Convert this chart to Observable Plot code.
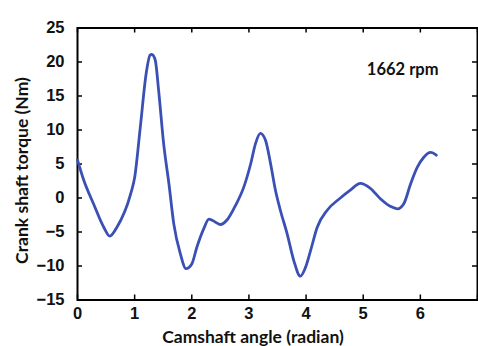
<!DOCTYPE html>
<html>
<head>
<meta charset="utf-8">
<script src="https://cdn.jsdelivr.net/npm/d3@7"></script>
<script src="https://cdn.jsdelivr.net/npm/@observablehq/plot@0.6"></script>
<style>
  html, body { margin: 0; padding: 0; background: #fff; }
  svg { display: block; }
</style>
</head>
<body>
<div id="chart"></div>
<script>
// Crankshaft torque over one camshaft revolution
const angle = [0, 0.11, 0.28, 0.46, 0.565, 0.69, 0.93, 1.0, 1.1, 1.2, 1.27, 1.3, 1.36, 1.42, 1.51, 1.6, 1.685, 1.8, 1.9, 2.0, 2.09, 2.21, 2.3, 2.415, 2.5, 2.62, 2.765, 2.91, 3.03, 3.115, 3.2, 3.29, 3.38, 3.465, 3.55, 3.67, 3.785, 3.9, 3.99, 4.08, 4.195, 4.37, 4.6, 4.78, 4.95, 5.12, 5.3, 5.48, 5.6, 5.71, 5.83, 5.945, 6.06, 6.18, 6.28];
const torque = [5.6, 2.6, -0.85, -4.3, -5.6, -4.3, 0.6, 3.0, 10.5, 18.2, 21.0, 21.1, 20.3, 15.8, 7.8, 2.1, -3.8, -8.2, -10.4, -9.7, -7.2, -4.5, -3.1, -3.55, -3.9, -3.2, -1.1, 1.6, 5.0, 8.0, 9.5, 8.5, 5.0, 1.1, -1.8, -5.3, -9.2, -11.5, -10.2, -7.7, -4.3, -1.8, 0.0, 1.2, 2.15, 1.45, -0.1, -1.25, -1.6, -0.85, 2.1, 4.5, 6.0, 6.7, 6.3];

const xTicks = [0, 1, 2, 3, 4, 5, 6, 7];
const xTickLabels = ["0", "1", "2", "3", "4", "5", "6", ""];
const yTicks = [-15, -10, -5, 0, 5, 10, 15, 20, 25];
const speedLabel = "1662 rpm";
const xTitle = "Camshaft angle (radian)";
const yTitle = "Crank shaft torque (Nm)";

const points = angle.map((a, i) => ({angle: a, torque: torque[i]}));

const W = 478, H = 346;
const M = {left: 77, right: 1, top: 27.5, bottom: 46.5};
const plotW = W - M.left - M.right;
const plotH = H - M.top - M.bottom;
const tickLen = 5;

const tickFont = "'Liberation Sans', Arial, sans-serif";
const titleFont = "Lato, 'Open Sans', sans-serif";

const chart = Plot.plot({
  width: W,
  height: H,
  marginLeft: M.left,
  marginRight: M.right,
  marginTop: M.top,
  marginBottom: M.bottom,
  style: {background: "#fff", color: "#111"},
  x: {domain: [0, 7]},
  y: {domain: [-15, 25]},
  marks: [
    // inward tick marks on all four sides
    Plot.ruleX(xTicks, {x: d => d, insetTop: plotH - tickLen, stroke: "#000", strokeWidth: 1.5}),
    Plot.ruleX(xTicks, {x: d => d, insetBottom: plotH - tickLen, stroke: "#000", strokeWidth: 1.5}),
    Plot.ruleY(yTicks, {y: d => d, insetRight: plotW - tickLen, stroke: "#000", strokeWidth: 1.5}),
    Plot.ruleY(yTicks, {y: d => d, insetLeft: plotW - tickLen, stroke: "#000", strokeWidth: 1.5}),
    // tick labels
    Plot.axisX(xTicks, {
      anchor: "bottom", tickSize: 0, tickPadding: 7,
      tickFormat: (d, i) => xTickLabels[i],
      fontSize: 16.5, fontWeight: "bold", fontFamily: tickFont, label: null
    }),
    Plot.axisY(yTicks, {
      anchor: "left", tickSize: 0, tickPadding: 13,
      fontSize: 16.5, fontWeight: "bold", fontFamily: tickFont, label: null
    }),
    Plot.frame({stroke: "#000", strokeWidth: 2}),
    Plot.line(points, {
      x: "angle", y: "torque", curve: "monotone-x",
      stroke: "#3a50b4", strokeWidth: 2.8
    }),
    Plot.text([speedLabel], {
      frameAnchor: "top-right", dx: -39, dy: 41.5, textAnchor: "end", lineAnchor: "middle",
      fontSize: 16.5, fontWeight: "bold", fontFamily: titleFont, fill: "#111"
    }),
    Plot.text([xTitle], {
      frameAnchor: "bottom", dy: 37.5, dx: -24.5, textAnchor: "middle", lineAnchor: "middle",
      fontSize: 17.5, fontWeight: "bold", fontFamily: titleFont, fill: "#111"
    }),
    Plot.text([yTitle], {
      frameAnchor: "left", dx: -55, dy: 6.5, rotate: -90, textAnchor: "middle", lineAnchor: "middle",
      fontSize: 17.5, fontWeight: "bold", fontFamily: titleFont, fill: "#111"
    })
  ]
});

document.getElementById("chart").append(chart);
</script>
</body>
</html>
